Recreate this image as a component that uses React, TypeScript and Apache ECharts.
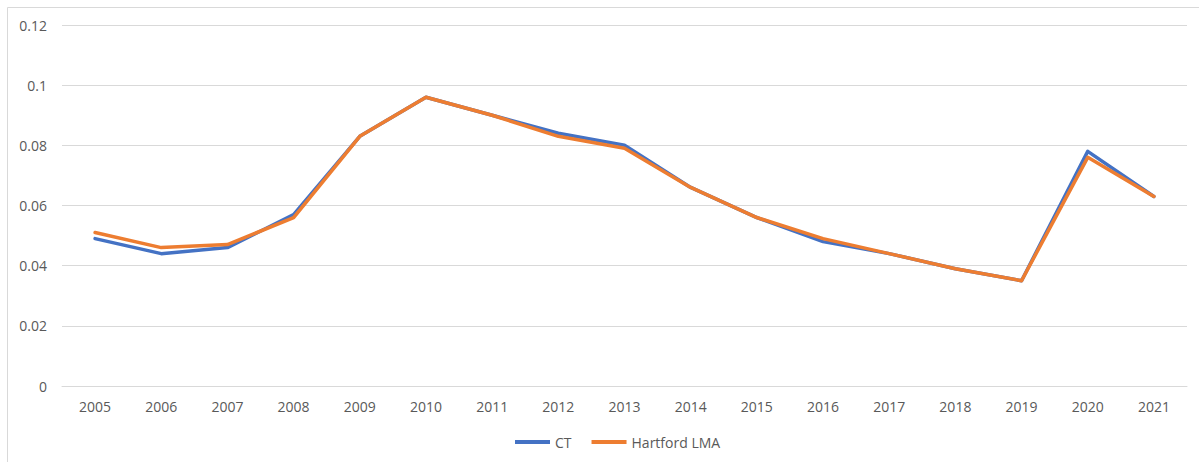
import React, { useEffect, useRef } from "react";
import * as echarts from "echarts";

const years = ["2005","2006","2007","2008","2009","2010","2011","2012","2013","2014","2015","2016","2017","2018","2019","2020","2021"];
const ctValues = [0.049,0.044,0.046,0.057,0.083,0.096,0.090,0.084,0.080,0.066,0.056,0.048,0.044,0.039,0.035,0.078,0.063];
const hartfordValues = [0.051,0.046,0.047,0.056,0.083,0.096,0.090,0.083,0.079,0.066,0.056,0.049,0.044,0.039,0.035,0.076,0.063];
const yTicks = ["0","0.02","0.04","0.06","0.08","0.1","0.12"];

const FONT = "'Open Sans', 'Liberation Sans', sans-serif";

export default function App() {
  const ref = useRef<HTMLDivElement>(null);
  useEffect(() => {
    document.body.style.margin = "0";
    const chart = echarts.init(ref.current!, null, { renderer: "svg" });
    chart.setOption({
      animation: false,
      backgroundColor: "#ffffff",
      graphic: [
        {
          type: "rect",
          shape: { x: 7.5, y: 7.5, width: 1200, height: 470 },
          style: { fill: "none", stroke: "#d9d9d9", lineWidth: 1 },
          silent: true,
        },
      ],
      grid: { left: 62, right: 12, top: 25, bottom: 76, containLabel: false },
      legend: {
        bottom: 8,
        left: 510,
        itemWidth: 35,
        itemHeight: 4,
        itemGap: 20,
        icon: "rect",
        textStyle: { color: "#595959", fontSize: 14, fontFamily: FONT },
        data: ["CT", "Hartford LMA"],
      },
      xAxis: {
        type: "category",
        data: years,
        boundaryGap: true,
        axisLine: { show: true, lineStyle: { color: "#d9d9d9", width: 1 } },
        axisTick: { show: false },
        axisLabel: { color: "#595959", fontSize: 14, fontFamily: FONT, margin: 13 },
      },
      yAxis: {
        type: "value",
        min: 0,
        max: 0.12,
        interval: 0.02,
        axisLine: { show: false },
        axisTick: { show: false },
        splitLine: { lineStyle: { color: "#d9d9d9", width: 1 } },
        axisLabel: {
          color: "#595959",
          fontSize: 14,
          fontFamily: FONT,
          margin: 15,
          formatter: (v: number) => yTicks[Math.round(v / 0.02)] ?? String(v),
        },
      },
      series: [
        {
          name: "CT",
          type: "line",
          data: ctValues,
          symbol: "none",
          lineStyle: { color: "#4472C4", width: 3.5, cap: "round", join: "round" },
          itemStyle: { color: "#4472C4" },
        },
        {
          name: "Hartford LMA",
          type: "line",
          data: hartfordValues,
          symbol: "none",
          lineStyle: { color: "#ED7D31", width: 3.5, cap: "round", join: "round" },
          itemStyle: { color: "#ED7D31" },
        },
      ],
    });
    return () => chart.dispose();
  }, []);
  return <div ref={ref} style={{ width: 1199, height: 462 }} />;
}
